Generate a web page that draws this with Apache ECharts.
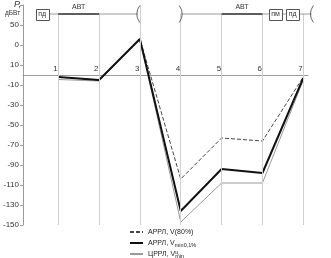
<!DOCTYPE html>
<html><head><meta charset="utf-8">
<script src="https://cdn.jsdelivr.net/npm/echarts@6/dist/echarts.min.js"></script>
<style>html,body{margin:0;padding:0;background:#fff}#c{width:331px;height:258px}</style>
</head><body><div id="c"></div>
<script>
// Station numbers along the route
const stations = [1, 2, 3, 4, 5, 6, 7];
// Received power per station, dBW
const arrlV80 = [-2, -5, 36, -104, -63, -66, -2];
const arrlVmin = [-2, -5, 36, -136, -94, -98, -3];
const crrlVmin = [-4.5, -6, 36, -147, -108, -108, -5];
// Y tick labels from -150 up to 70 (step 20)
const yTickLabels = ['-150', '-130', '-110', '-90', '-70', '-50', '-30', '-10', '10', '0', '50', ''];
// Top strip: level of the route line and the АВТ spans
const routeLevel = 61;
const avtSpans = [[1, 2], [5, 6]];

const chart = echarts.init(document.getElementById('c'));
const FONT = 'Liberation Sans, Arial, sans-serif';

const gridLines = stations.map(s => [{ coord: [s, -150] }, { coord: [s, s === 3 ? 70 : routeLevel] }]);
const avtLines = avtSpans.map(([a, b]) => [{ coord: [a, routeLevel] }, { coord: [b, routeLevel] }]);

const toPts = arr => stations.map((s, i) => [s, arr[i]]);

chart.setOption({
  animation: false,
  grid: { left: 22, right: 23, top: 5, bottom: 33 },
  xAxis: {
    type: 'value', min: 0.139, max: 7.115,
    axisLine: { onZero: true, lineStyle: { color: '#9a9a9a', width: 1 } },
    axisTick: { show: false },
    splitLine: { show: false },
    axisLabel: { show: false }
  },
  yAxis: {
    type: 'value', min: -150, max: 70, interval: 20,
    axisLine: { show: true, lineStyle: { color: '#9a9a9a', width: 1 } },
    axisTick: { show: true, length: 3, lineStyle: { color: '#9a9a9a' } },
    splitLine: { show: false },
    axisLabel: {
      fontSize: 8, color: '#333', fontFamily: FONT, margin: 4,
      formatter: v => yTickLabels[Math.round((v + 150) / 20)]
    }
  },
  legend: {
    orient: 'vertical', left: 129, top: 227, height: 40, itemGap: 1,
    itemWidth: 13, itemHeight: 7, padding: 0,
    itemStyle: { opacity: 0 },
    textStyle: {
      fontSize: 7, color: '#222', fontFamily: FONT, lineHeight: 10,
      rich: {
        sub: { fontSize: 5.5, verticalAlign: 'bottom', lineHeight: 10, fontFamily: FONT, color: '#222' },
        sup: { fontSize: 5.5, width: 0, verticalAlign: 'top', lineHeight: 6, fontFamily: FONT, color: '#222' }
      }
    },
    data: ['v80', 'vmin', 'crrl'],
    formatter: n => ({
      v80: 'АРРЛ, V(80%)',
      vmin: 'АРРЛ, V{sub|min0,1%}',
      crrl: 'ЦРРЛ, V{sup|ц}{sub|min}'
    })[n]
  },
  series: [
    {
      name: 'grid', type: 'line', data: [], silent: true,
      markLine: {
        silent: true, symbol: 'none', label: { show: false },
        lineStyle: { color: '#cfcfcf', width: 1, type: 'solid' },
        data: gridLines
      }
    },
    {
      name: 'avt', type: 'line', data: [], silent: true,
      markLine: {
        silent: true, symbol: 'none', label: { show: false },
        lineStyle: { color: '#222', width: 2, type: 'solid' },
        data: avtLines
      }
    },
    {
      name: 'crrl', type: 'line', data: toPts(crrlVmin), symbol: 'none',
      lineStyle: { color: '#9a9a9a', width: 1 }, itemStyle: { color: '#9a9a9a' }
    },
    {
      name: 'v80', type: 'line', data: toPts(arrlV80), symbol: 'none',
      lineStyle: { color: '#444', width: 1, type: [4, 2] }, itemStyle: { color: '#444' }
    },
    {
      name: 'vmin', type: 'line', data: toPts(arrlVmin), symbol: 'none',
      lineStyle: { color: '#111', width: 2 }, itemStyle: { color: '#111' }
    }
  ]
});

// Top strip decorations and station numbers placed in axis coordinates
const px = (x, y) => chart.convertToPixel({ gridIndex: 0 }, [x, y]);
const yLine = px(0, routeLevel)[1];
const yZero = px(0, 0)[1];
const boxes = [{ x: 0.61, t: 'пд' }, { x: 6.32, t: 'пм' }, { x: 6.74, t: 'пд' }];
const brackets = [{ x: 2.96, dir: -1 }, { x: 4.0, dir: 1 }, { x: 7.21, dir: -1 }];
const segs = [[0.61, 2.96], [4.0, 7.21]];
const g = [];
const BW = 13, BH = 11;
segs.forEach(([a, b]) => {
  const p1 = px(a, routeLevel), p2 = px(b, routeLevel);
  g.push({ type: 'line', z: 5, shape: { x1: p1[0], y1: yLine, x2: p2[0], y2: yLine }, style: { stroke: '#9a9a9a', lineWidth: 1 } });
});
boxes.forEach(b => {
  const c = px(b.x, routeLevel)[0];
  g.push({ type: 'rect', z: 10, shape: { x: Math.round(c - BW / 2) + 0.5, y: Math.round(yLine - BH / 2) + 0.5, width: BW, height: BH }, style: { fill: '#fff', stroke: '#555', lineWidth: 1 } });
  g.push({ type: 'text', z: 11, x: c, y: yLine, style: { text: b.t, fontSize: 7, fill: '#333', fontFamily: FONT, align: 'center', verticalAlign: 'middle' } });
});
brackets.forEach(b => {
  const c = px(b.x, routeLevel)[0];
  const h = 8.5, w = 3 * b.dir;
  g.push({ type: 'bezierCurve', z: 10, shape: { x1: c - w / 2, y1: yLine - h, x2: c - w / 2, y2: yLine + h, cpx1: c + w * 1.5, cpy1: yLine }, style: { fill: 'none', stroke: '#666', lineWidth: 1 } });
});
avtSpans.forEach(([a, b]) => {
  const c = px((a + b) / 2, routeLevel)[0];
  g.push({ type: 'text', z: 11, x: c, y: yLine - 3, style: { text: 'АВТ', fontSize: 7, fill: '#333', fontFamily: FONT, align: 'center', verticalAlign: 'bottom' } });
});
stations.forEach(s => {
  const x = px(s, 0)[0];
  g.push({ type: 'text', z: 11, x: x - 0.5, y: yZero - 2, style: { text: String(s), fontSize: 8, fill: '#333', fontFamily: FONT, align: 'right', verticalAlign: 'bottom' } });
});
g.push({ type: 'text', z: 11, x: 14, y: 0, style: { text: 'P,', fontSize: 9, fontStyle: 'italic', fill: '#333', fontFamily: FONT, verticalAlign: 'top' } });
g.push({ type: 'text', z: 11, x: 5, y: 10, style: { text: 'дБВт', fontSize: 6.5, fill: '#333', fontFamily: FONT, verticalAlign: 'top' } });
chart.setOption({ graphic: g });
</script>
</body></html>
